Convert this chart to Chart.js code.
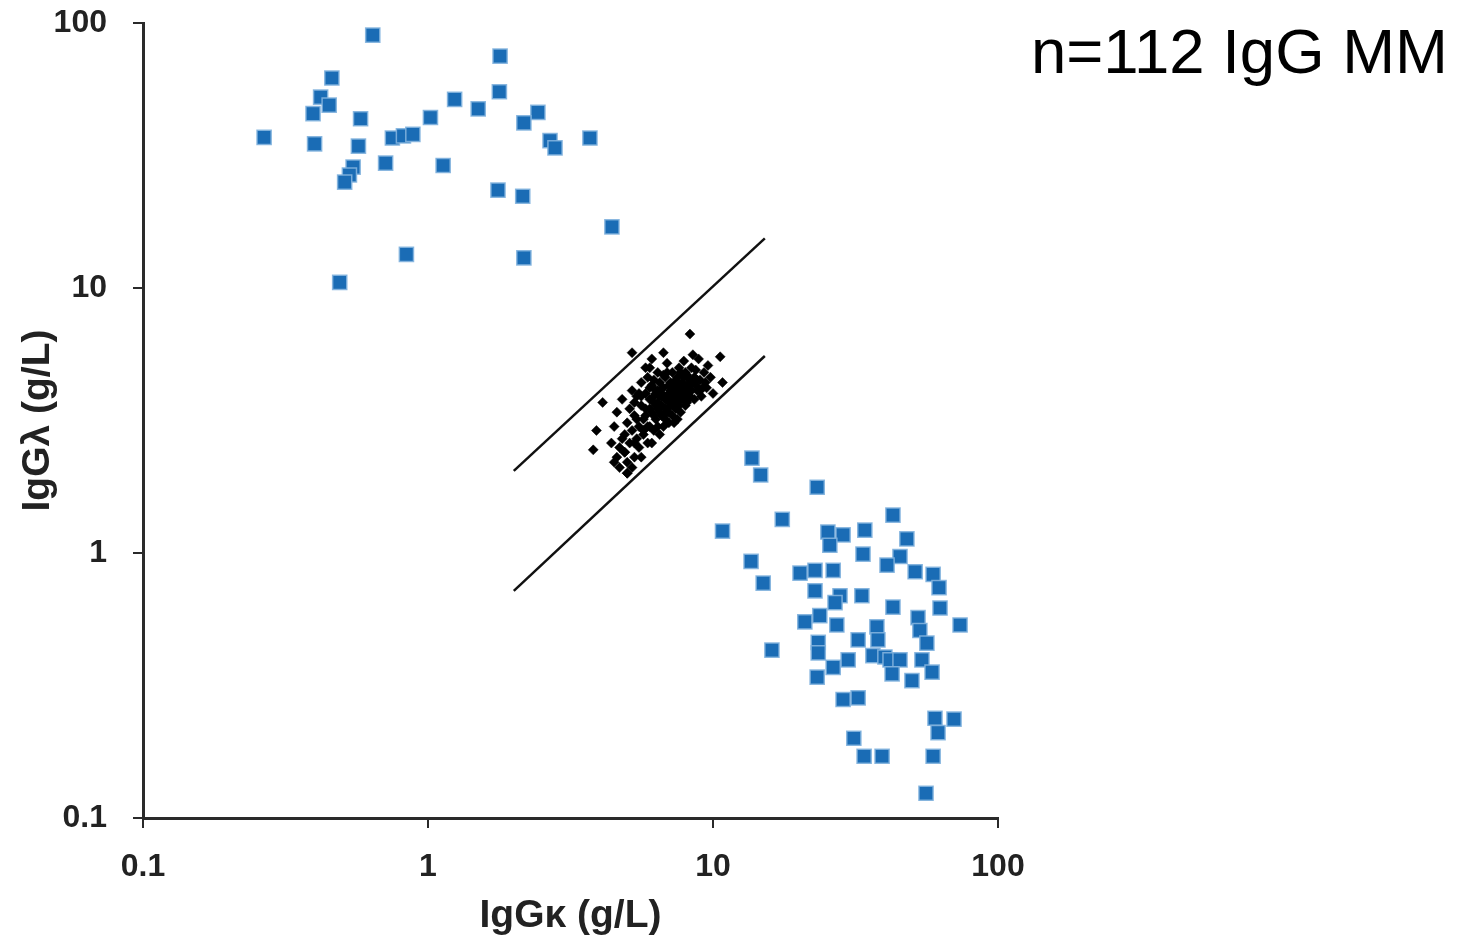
<!DOCTYPE html>
<html>
<head>
<meta charset="utf-8">
<script src="https://cdn.jsdelivr.net/npm/chart.js@4/dist/chart.umd.min.js"></script>
<style>
  html, body { margin: 0; padding: 0; background: #ffffff; }
  #wrap { position: relative; width: 1470px; height: 940px; }
  #c { position: absolute; left: 0; top: 0; }
  #note { position: absolute; right: 22px; top: 20px; font-family: "Liberation Sans", Arial, sans-serif;
          font-size: 63.5px; line-height: 1; color: #000; white-space: nowrap; }
</style>
</head>
<body>
<div id="wrap">
  <canvas id="c" width="1470" height="940"></canvas>
  <div id="note">n=112 IgG MM</div>
</div>
<script>
// ---- tick labels ----
const xTickValues = [0.1, 1, 10, 100];
const yTickValues = [0.1, 1, 10, 100];

// ---- lambda-type MM patients (IgGκ, IgGλ in g/L) ----
const lambdaMMKappa = [0.64,1.79,0.46,0.42,0.45,0.395,0.58,1.24,1.78,1.5,1.02,2.43,2.17,0.266,0.40,0.57,0.75,0.82,0.885,2.68,2.79,3.7,0.546,0.53,0.51,0.71,1.13,1.76,2.15,4.42,0.84,2.17,0.49];
const lambdaMMLambda = [90,75,62,52.5,49,45.5,43.5,51.5,55,47.4,44,46,42,37,35,34.3,36.8,37.5,38,36,33.8,36.8,28.6,26.7,25.1,29.6,29,23.4,22.2,17,13.4,13,10.5];

// ---- kappa-type MM patients ----
const kappaMMKappa = [13.7,14.7,23.2,42.8,17.5,10.8,25.3,28.6,25.7,34.1,47.9,33.6,13.6,45.3,40.8,20.2,22.8,26.4,51.2,59.2,15.0,62.1,22.8,27.9,33.3,26.8,42.8,62.6,21.0,23.7,27.2,52.4,73.6,37.6,53.2,32.3,23.4,37.9,56.3,16.1,23.4,36.4,40.1,41.8,45.3,54.1,29.8,26.4,58.7,42.5,49.9,23.2,28.6,32.3,60.1,70.1,61.6,31.2,33.9,39.2,59.2,55.9];
const kappaMMLambda = [2.28,1.97,1.77,1.39,1.34,1.21,1.20,1.17,1.07,1.22,1.13,0.99,0.93,0.97,0.90,0.84,0.86,0.86,0.85,0.83,0.77,0.74,0.72,0.69,0.69,0.65,0.625,0.62,0.55,0.58,0.535,0.57,0.535,0.526,0.51,0.47,0.46,0.47,0.457,0.43,0.42,0.41,0.405,0.395,0.395,0.395,0.395,0.37,0.355,0.35,0.33,0.34,0.28,0.284,0.238,0.236,0.21,0.2,0.171,0.171,0.171,0.124];

// ---- normal controls ----
const normalKappa = [4.4,4.5,4.6,4.6,4.7,4.8,4.8,4.9,5.0,5.0,5.1,5.1,5.2,5.2,5.3,5.3,5.4,5.4,5.5,5.5,5.6,5.6,
  5.7,5.7,5.8,5.8,5.9,5.9,6.0,6.0,6.0,6.1,6.1,6.2,6.2,6.3,6.3,6.4,6.4,6.5,6.5,6.5,6.6,6.6,6.7,6.7,6.8,6.8,6.9,6.9,7.0,7.0,7.1,7.1,7.2,7.2,
  7.3,7.3,7.4,7.5,7.5,7.6,7.6,7.7,7.8,7.8,7.9,8.0,8.0,8.1,8.2,8.3,8.4,8.5,8.6,8.7,8.8,8.9,9.0,9.1,9.3,9.5,9.6,9.8,10.0,
  5.2,4.1,3.9,3.8,5.0,8.3,10.6,10.8,6.7,
  5.0,4.9,5.3,5.6,5.9,6.1,6.3,6.6,6.8,7.0,7.2,7.4,7.6,7.9,8.1,8.4,8.7,9.2,6.2,6.9,7.7,8.5,5.5,6.4,7.5,6.1,5.8,4.7,4.5,5.2,
  6.2,6.4,6.6,6.8,7.0,7.2,7.4,7.6,7.8,8.0,8.2,8.4,6.3,6.5,6.7,6.9,7.1,7.3,7.5,7.7,7.9,8.1,8.3,8.6,5.4,5.6,5.8,6.0,6.2,6.4,9.0,9.4,8.8,7.0,6.0,5.3,4.9,5.7,6.5,7.3];
const normalLambda = [2.6,3.0,2.3,3.4,2.1,2.7,3.8,2.4,3.1,2.2,2.6,3.5,4.1,2.9,2.3,3.3,2.7,3.9,3.0,2.5,3.6,4.4,
  2.8,3.2,4.0,3.5,2.6,4.6,3.0,3.8,5.0,3.4,4.3,2.9,3.7,4.1,3.2,4.8,3.5,2.8,3.9,4.4,3.3,3.6,4.2,3.0,3.8,4.6,3.4,5.2,4.0,3.1,3.6,4.4,3.3,4.8,
  3.9,4.2,3.5,4.6,3.7,5.0,4.1,3.4,4.4,3.8,5.3,4.0,3.6,4.7,4.2,3.9,5.0,4.4,3.8,4.9,4.1,5.4,4.5,3.9,4.8,4.2,5.1,4.6,4.0,
  5.7,3.7,2.9,2.45,2.0,6.7,5.5,4.4,5.7,
  2.0,2.8,3.7,2.3,3.0,2.6,3.6,4.0,3.2,3.7,4.1,4.0,3.6,4.1,3.7,4.4,4.3,4.2,4.5,4.8,4.8,5.6,4.0,3.0,3.2,5.4,5.0,2.5,2.2,2.1,
  3.3,3.7,3.9,3.5,4.3,3.8,4.5,3.9,4.2,4.8,3.8,4.1,4.0,3.6,4.7,3.9,4.1,3.6,4.3,3.9,4.6,4.3,4.5,4.6,3.2,3.9,3.3,4.2,3.9,4.1,4.1,4.4,4.5,3.4,3.5,2.6,2.4,2.9,3.4,3.1];

// ---- reference-range boundary lines ----
const upperLineKappa = [2.0, 15.2];
const upperLineLambda = [2.04, 15.4];
const lowerLineKappa = [2.0, 15.2];
const lowerLineLambda = [0.72, 5.54];

const toXY = (xs, ys) => xs.map((v, i) => ({ x: v, y: ys[i] }));

Chart.defaults.font.family = '"Liberation Sans", Arial, Helvetica, sans-serif';
Chart.defaults.color = '#222';

const blue = 'rgb(26,108,181)';
const blueEdge = 'rgba(130,178,222,0.9)';
const axisColor = '#2a2a2a';

new Chart(document.getElementById('c'), {
  type: 'scatter',
  data: {
    datasets: [
      { label: 'upper', data: toXY(upperLineKappa, upperLineLambda), showLine: true, borderColor: '#111', borderWidth: 2.5, pointRadius: 0, fill: false },
      { label: 'lower', data: toXY(lowerLineKappa, lowerLineLambda), showLine: true, borderColor: '#111', borderWidth: 2.5, pointRadius: 0, fill: false },
      { label: 'normal', data: toXY(normalKappa, normalLambda), pointStyle: 'rectRot', pointRadius: 5, backgroundColor: '#000', borderColor: '#000', borderWidth: 0.5 },
      { label: 'lambda MM', data: toXY(lambdaMMKappa, lambdaMMLambda), pointStyle: 'rect', pointRadius: 10, backgroundColor: blue, borderColor: blueEdge, borderWidth: 1.5 },
      { label: 'kappa MM', data: toXY(kappaMMKappa, kappaMMLambda), pointStyle: 'rect', pointRadius: 10, backgroundColor: blue, borderColor: blueEdge, borderWidth: 1.5 }
    ]
  },
  options: {
    responsive: false,
    devicePixelRatio: 1,
    animation: false,
    events: [],
    layout: { padding: { left: 0, right: 472, top: 0, bottom: 0 } },
    plugins: { legend: { display: false }, tooltip: { enabled: false }, title: { display: false } },
    scales: {
      x: {
        type: 'logarithmic',
        min: 0.1, max: 100,
        afterBuildTicks: (s) => { s.ticks = xTickValues.map(v => ({ value: v })); },
        afterFit: (s) => { s.height = 122; s.paddingLeft = 0; s.paddingRight = 0; },
        ticks: { callback: (v) => String(v), font: { size: 32, weight: 'bold' }, color: '#222', padding: 20, autoSkip: false, maxRotation: 0 },
        grid: { drawOnChartArea: false, drawTicks: true, tickLength: 10, color: axisColor, lineWidth: 2 },
        border: { display: true, color: axisColor, width: 3 },
        title: { display: true, text: 'IgGκ (g/L)', font: { size: 39, weight: 'bold' }, color: '#222', padding: { top: 0, bottom: 0 } }
      },
      y: {
        type: 'logarithmic',
        min: 0.1, max: 100,
        afterBuildTicks: (s) => { s.ticks = yTickValues.map(v => ({ value: v })); },
        afterFit: (s) => { s.width = 143; s.paddingTop = 23; s.paddingBottom = 0; },
        ticks: { callback: (v) => String(v), font: { size: 32, weight: 'bold' }, color: '#222', padding: 26, autoSkip: false },
        grid: { drawOnChartArea: false, drawTicks: true, tickLength: 10, color: axisColor, lineWidth: 2 },
        border: { display: true, color: axisColor, width: 3 },
        title: { display: true, text: 'IgGλ (g/L)', font: { size: 39, weight: 'bold' }, color: '#222', padding: { top: 15, bottom: 0 } }
      }
    }
  }
});
</script>
</body>
</html>
